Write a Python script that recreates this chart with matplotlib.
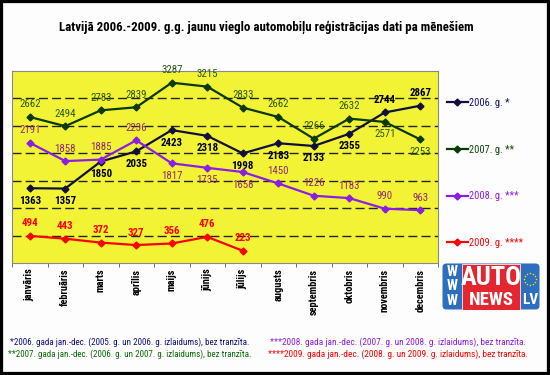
import matplotlib
matplotlib.use('Agg')
import matplotlib.pyplot as plt
from matplotlib.patches import Rectangle, FancyBboxPatch
import numpy as np

# data
months = ['janvāris', 'februāris', 'marts', 'aprīlis', 'maijs', 'jūnijs',
          'jūlijs', 'augusts', 'septembris', 'oktobris', 'novembris', 'decembris']
y2006 = [1363, 1357, 1850, 2035, 2423, 2318, 1998, 2183, 2133, 2355, 2744, 2867]
y2007 = [2662, 2494, 2783, 2839, 3287, 3215, 2833, 2662, 2266, 2632, 2571, 2253]
y2008 = [2191, 1858, 1885, 2236, 1817, 1735, 1658, 1450, 1226, 1183, 990, 963]
y2009 = [494, 443, 372, 327, 356, 476, 223]
legend_labels = ['2006. g. *', '2007. g. **', '2008. g. ***', '2009. g. ****']
notes = ['*2006. gada jan.-dec. (2005. g. un 2006. g. izlaidums), bez tranzīta.',
         '**2007. gada jan.-dec. (2006. g. un 2007. g. izlaidums), bez tranzīta.',
         '***2008. gada jan.-dec. (2007. g. un 2008. g. izlaidums), bez tranzīta.',
         '****2009. gada jan.-dec. (2008. g. un 2009. g. izlaidums), bez tranzīta.']
title = 'Latvijā 2006.-2009. g.g. jaunu vieglo automobiļu reģistrācijas dati pa mēnešiem'

# label side: +1 above, -1 below
side2006 = [-1]*10 + [1, 1]
side2007 = [1]*10 + [-1, -1]
side2008 = [1, 1, 1, 1, -1, -1, -1, 1, 1, 1, 1, 1]
side2009 = [1]*7

plt.rcParams['font.family'] = ['Roboto Condensed', 'Liberation Sans', 'DejaVu Sans']

W, H = 550, 375
fig = plt.figure(figsize=(W/100, H/100), dpi=100)
fig.patch.set_facecolor('#fdfdfd')

def px(x, y):
    return x / W, 1 - y / H

l, t = px(12, 71)
r, b = px(438, 263)
ax = fig.add_axes([l, b, r - l, t - b])
ax.set_facecolor('#f3f336')
x = np.arange(12)
ax.set_xlim(-0.5, 11.5)
ax.set_ylim(0, 3500)
for g in range(500, 3500, 500):
    ax.axhline(g, color='#222222', lw=1, dashes=(6.5, 3), zorder=1)

series = [
    (y2006, '#10103e', '#000000', 'bold', side2006),
    (y2007, '#0a3a0a', '#2b5a10', 'normal', side2007),
    (y2008, '#8a1ee6', '#8e2a6e', 'normal', side2008),
    (y2009, '#ff0000', '#ff0000', 'bold', side2009),
]
handles = []
for vals, lc, tc, fw, sides in series:
    xs = x[:len(vals)]
    h, = ax.plot(xs, vals, color=lc, lw=1.6, marker='D', ms=3.5, zorder=3)
    handles.append(h)
    for xi, v, s in zip(xs, vals, sides):
        ax.annotate(str(v), (xi, v), xytext=(0, 9 * s), textcoords='offset points',
                    ha='center', va='center', color=tc, fontsize=7.8,
                    fontweight=fw, zorder=4)

ax.set_xticks(np.arange(-0.5, 12, 1), minor=True)
ax.set_xticks(x)
ax.set_xticklabels(months, rotation=90, fontsize=7.5, fontweight='bold')
ax.tick_params(axis='x', which='major', length=0, pad=4)
ax.tick_params(axis='x', which='minor', length=3, color='#555555')
ax.set_yticks([])
for sp in ax.spines.values():
    sp.set_color('#888888')
    sp.set_linewidth(0.8)

leg = fig.legend(handles, legend_labels, loc='upper left', bbox_to_anchor=px(447, 98),
                 frameon=False, fontsize=7.5, handlelength=2.0, handletextpad=0.1,
                 labelspacing=3.52, borderaxespad=0, borderpad=0)
for txt, c in zip(leg.get_texts(), ['#10106e', '#0a4a0a', '#8a1ee6', '#ff0000']):
    txt.set_color(c)

fig.text(*px(266, 27), title, ha='center', va='center', fontsize=9.3, fontweight='bold')

note_cols = ['#10107a', '#0a6a0a', '#8a1ee6', '#ff0000']
fig.text(*px(130, 342), notes[0], ha='center', va='center', fontsize=6.5, color=note_cols[0])
fig.text(*px(130, 354), notes[1], ha='center', va='center', fontsize=6.5, color=note_cols[1])
fig.text(*px(398, 342), notes[2], ha='center', va='center', fontsize=6.75, color=note_cols[2])
fig.text(*px(398, 354), notes[3], ha='center', va='center', fontsize=6.75, color=note_cols[3])

# logo
lx0, ly0 = px(442, 310)
lx1, ly1 = px(540, 263)
lg = fig.add_axes([lx0, ly0, lx1 - lx0, ly1 - ly0])
lg.set_xlim(0, 98)
lg.set_ylim(0, 47)
lg.axis('off')
lg.add_patch(FancyBboxPatch((0.5, 0.5), 97, 46, boxstyle='round,pad=0,rounding_size=4',
                            fc='#2d6fbe', ec='none'))
lg.add_patch(Rectangle((20, 0.5), 58, 46, fc='#e32630', ec='#f0f0f0', lw=0.6))
for yy in [38.5, 23.5, 9]:
    lg.text(10, yy, 'W', color='white', ha='center', va='center', fontsize=10.5, fontweight='bold')
lg.text(49, 32, 'AUTO', color='white', ha='center', va='center', fontsize=19, fontweight='bold')
lg.text(49, 10, 'NEWS', color='white', ha='center', va='center', fontsize=13.5, fontweight='bold')
lg.text(88, 9.5, 'LV', color='white', ha='center', va='center', fontsize=11, fontweight='bold')
ang = np.linspace(0, 2 * np.pi, 12, endpoint=False)
lg.scatter(88 + 6 * np.cos(ang), 31 + 6 * np.sin(ang), s=1.2, c='#ffe000', marker='o', lw=0)

fig.add_artist(Rectangle((0, 0), 1, 1, transform=fig.transFigure, fill=False,
                         ec='black', lw=4.5))
fig.savefig('out.png', dpi=100, facecolor=fig.get_facecolor())
